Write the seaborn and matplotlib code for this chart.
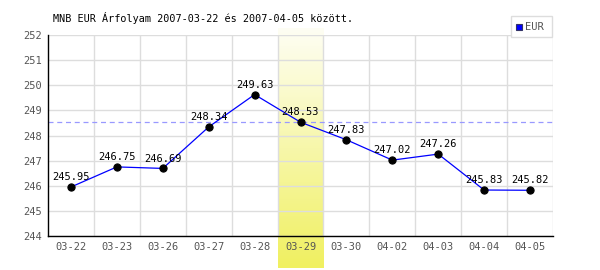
import numpy as np
import pandas as pd
import matplotlib
matplotlib.use("Agg")
import matplotlib.pyplot as plt
import seaborn as sns
from matplotlib.patches import Rectangle
from matplotlib.colors import LinearSegmentedColormap

dates = ["03-22", "03-23", "03-26", "03-27", "03-28", "03-29", "03-30", "04-02", "04-03", "04-04", "04-05"]
values = [245.95, 246.75, 246.69, 248.34, 249.63, 248.53, 247.83, 247.02, 247.26, 245.83, 245.82]
yticks = [244, 245, 246, 247, 248, 249, 250, 251, 252]
ref_value = 248.53
highlight = "03-29"
title = "MNB EUR Árfolyam 2007-03-22 és 2007-04-05 között."
series_name = "EUR"

sns.set_theme(style="white")
plt.rcParams['font.family'] = ['DejaVu Sans Mono', 'DejaVu Sans']

df = pd.DataFrame({"pos": np.arange(len(dates)), "value": values})

fig = plt.figure(figsize=(6, 2.7), dpi=100)
ax = fig.add_axes([48/600, 1-236/270, (553-48)/600, (236-35)/270])

ax.set_xlim(-0.5, len(dates) - 0.5)
ax.set_ylim(244, 252)

# highlight band with gradient
hi = dates.index(highlight)
grad = np.linspace(0, 1, 256).reshape(-1, 1)
cmap = LinearSegmentedColormap.from_list("yl", ["#fefef4", "#f0f060"])
ybot = 244 - (268 - 236) / 25.1
ax.imshow(grad, aspect="auto", cmap=cmap, origin="upper",
          extent=[hi - 0.5, hi + 0.5, ybot, 252.25], clip_on=False, zorder=0)

# grid
for y in yticks:
    ax.axhline(y, color="#dddddd", lw=1, zorder=1)
for i in range(len(dates)):
    ax.axvline(i + 0.5, color="#dddddd", lw=1, zorder=1)

ax.axhline(ref_value, color="#9999ff", lw=0.9, ls=(0, (4, 3)), zorder=2)

sns.lineplot(data=df, x="pos", y="value", ax=ax, color="#0000ff", lw=0.9,
             marker="o", markersize=5.2, markerfacecolor="black",
             markeredgecolor="black", zorder=3, legend=False)

for x, v in zip(df["pos"], df["value"]):
    ax.annotate(f"{v:.2f}", (x, v), xytext=(0, 3.5), textcoords="offset points",
                ha="center", va="bottom", fontsize=7.5, color="black", zorder=4)

ax.set_xticks(df["pos"])
ax.set_xticklabels(dates)
ax.set_yticks(yticks)
ax.tick_params(axis="both", length=0, labelsize=7.5, colors="#555555", pad=4)
ax.set_xlabel("")
ax.set_ylabel("")
for s in ["top", "right"]:
    ax.spines[s].set_visible(False)
for s in ["left", "bottom"]:
    ax.spines[s].set_color("black")
    ax.spines[s].set_linewidth(1)
    ax.spines[s].set_zorder(5)

fig.text(53/600, 1-18/270, title, fontsize=7.3, color="black", va="center", ha="left")

# legend box
lx0, lx1, ly0, ly1 = 511/600, 552/600, 1-37/270, 1-16/270
fig.patches.append(Rectangle((lx0, ly0), lx1-lx0, ly1-ly0, transform=fig.transFigure,
                             facecolor="white", edgecolor="#dddddd", lw=1, zorder=10))
fig.patches.append(Rectangle((516/600, 1-30/270), 6/600, 6/270, transform=fig.transFigure,
                             facecolor="#0000ff", edgecolor="#333366", lw=0.8, zorder=11))
fig.text(525/600, 1-27/270, series_name, fontsize=7.5, color="#555555", va="center", ha="left", zorder=12)

fig.savefig("out.png", dpi=100, facecolor="white")
